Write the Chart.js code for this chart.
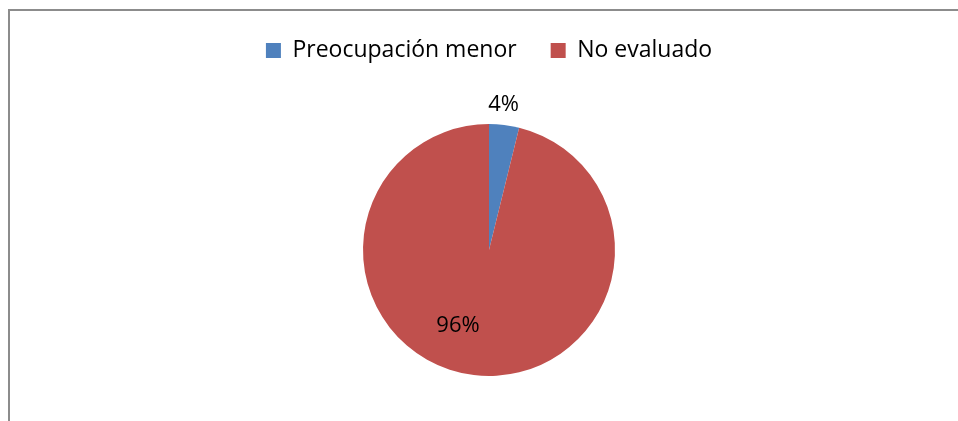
<!DOCTYPE html>
<html>
<head>
<meta charset="utf-8">
<script src="https://cdn.jsdelivr.net/npm/chart.js@4.4.1/dist/chart.umd.min.js"></script>
<style>
  html, body { margin: 0; padding: 0; background: #fff; overflow: hidden; width: 958px; height: 421px; position: relative; }
  #frame { position: absolute; left: 8px; top: 9px; width: 3000px; height: 3000px;
           border: none; border-left: 2px solid #8c8c8c; border-top: 2px solid #8c8c8c; box-sizing: border-box; }
  #wrap { position: absolute; left: 0; top: 0; width: 958px; height: 438px; }
</style>
</head>
<body>
<div id="frame"></div>
<div id="wrap"><canvas id="c"></canvas></div>
<script>
const categories = ['Preocupación menor', 'No evaluado'];
const seriesValues = [1, 25];
const sliceColors = ['#4F81BD', '#C0504D'];

const FONT = '"Open Sans", sans-serif';

const pctLabels = {
  id: 'pctLabels',
  afterDatasetsDraw(chart, args, opts) {
    const meta = chart.getDatasetMeta(0);
    const data = chart.data.datasets[0].data;
    const total = data.reduce((a, b) => a + b, 0);
    const ctx = chart.ctx;
    ctx.save();
    ctx.font = opts.font;
    ctx.fillStyle = opts.color;
    ctx.textAlign = 'center';
    ctx.textBaseline = 'middle';
    meta.data.forEach((arc, i) => {
      const p = opts.place[i];
      const mid = (arc.startAngle + arc.endAngle) / 2 + p.angle * Math.PI / 180;
      const r = arc.outerRadius * p.r;
      const x = arc.x + Math.cos(mid) * r;
      const y = arc.y + Math.sin(mid) * r;
      ctx.fillText(Math.round(data[i] / total * 100) + '%', x, y);
    });
    ctx.restore();
  }
};

new Chart(document.getElementById('c'), {
  type: 'pie',
  data: {
    labels: categories,
    datasets: [{
      data: seriesValues,
      backgroundColor: sliceColors,
      borderWidth: 0,
      radius: 126
    }]
  },
  options: {
    responsive: true,
    maintainAspectRatio: false,
    animation: false,
    layout: { padding: { top: 5, bottom: 10, left: 20, right: 0 } },
    plugins: {
      tooltip: { enabled: false },
      legend: {
        position: 'top',
        labels: {
          boxWidth: 15,
          boxHeight: 15,
          padding: 34,
          color: '#000',
          font: { family: FONT, size: 23 }
        }
      },
      pctLabels: {
        font: '22px ' + FONT,
        color: '#000',
        place: [ { r: 1.156, angle: -1.2 }, { r: 0.648, angle: 15.4 } ]
      }
    }
  },
  plugins: [pctLabels]
});
</script>
</body>
</html>
